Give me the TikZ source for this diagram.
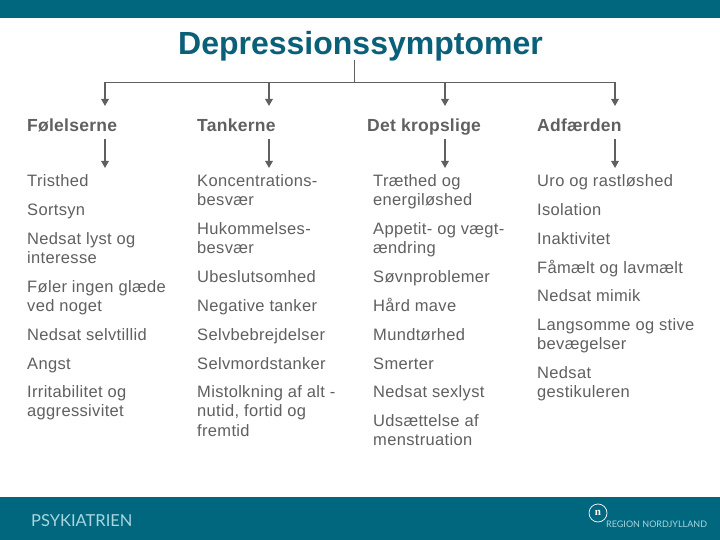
\documentclass[tikz,border=0pt]{standalone}
\usepackage{fontspec}
\setmainfont{Liberation Sans}
\newfontfamily\logofont{Lato}
\newfontfamily\logoserif{Liberation Serif}
\usetikzlibrary{arrows.meta}
\definecolor{teal}{HTML}{00677F}
\definecolor{titlec}{HTML}{0A6078}
\definecolor{txt}{HTML}{606060}
\definecolor{lt}{HTML}{A9D6E0}
\tikzset{
 bar/.style={fill=teal,draw=none},
 itemtxt/.style={font=\fontsize{16.5}{19.4}\selectfont\addfontfeature{LetterSpace=2},text=txt,align=left,inner sep=0pt,anchor=north west,execute at begin node=\rule{0pt}{14pt}},
 headtxt/.style={itemtxt,font=\fontsize{17.5}{19.4}\selectfont\bfseries\addfontfeature{LetterSpace=1.5}},
 conn/.style={draw=txt,line width=1.4pt},
 arr/.style={conn,-{Triangle[length=7pt,width=7.5pt]}},
}
\begin{document}
\begin{tikzpicture}[x=1pt,y=-1pt]
\useasboundingbox (0,0) rectangle (720,540);
\fill[white] (0,0) rectangle (720,540);
\path[bar] (0,0) rectangle (720,18.5);
\path[bar] (0,497) rectangle (720,540);
\node[inner sep=0pt,anchor=base,text=titlec,font=\fontsize{32}{36}\selectfont\bfseries] (title) at (360.5,54.5) {Depressionssymptomer};
% headers
\node[headtxt] (h1) at (27,117) {Følelserne};
\node[headtxt] (h2) at (197,117) {Tankerne};
\node[headtxt] (h3) at (367,117) {Det kropslige};
\node[headtxt] (h4) at (537,117) {Adfærden};
% connectors
\coordinate (t0) at (354.5,60);
\coordinate (tj) at (354.5,82.5);
\coordinate (l) at (105,82.5);
\coordinate (r) at (615,82.5);
\coordinate (j2) at (269,82.5);
\coordinate (j3) at (445,82.5);
\coordinate (e1) at (105,106);
\coordinate (e2) at (269,106);
\coordinate (e3) at (445,106);
\coordinate (e4) at (615,106);
\coordinate (s1) at (105,139);
\coordinate (s2) at (269,139);
\coordinate (s3) at (445,139);
\coordinate (s4) at (615,139);
\coordinate (d1) at (105,168);
\coordinate (d2) at (269,168);
\coordinate (d3) at (445,168);
\coordinate (d4) at (615,168);
\draw[draw=txt,line width=.8pt] (t0) -- (tj);
\draw[draw=txt,line width=1pt] (l) -- (r);
\foreach \a/\b in {l/e1,j2/e2,j3/e3,r/e4,s1/d1,s2/d2,s3/d3,s4/d4} \draw[arr] (\a) -- (\b);
% column 1
\node[itemtxt] (a1) at (27,172) {Tristhed};
\node[itemtxt] (a2) at (27,201) {Sortsyn};
\node[itemtxt] (a3) at (27,232.4) {Nedsat lyst og\\interesse};
\node[itemtxt] (a4) at (27,280.4) {Føler ingen glæde\\ved noget};
\node[itemtxt] (a5) at (27,326) {Nedsat selvtillid};
\node[itemtxt] (a6) at (27,355) {Angst};
\node[itemtxt] (a7) at (27,385.4) {Irritabilitet og\\aggressivitet};
% column 2
\node[itemtxt] (b1) at (197,174.4) {Koncentrations-\\besvær};
\node[itemtxt] (b2) at (197,222.4) {Hukommelses-\\besvær};
\node[itemtxt] (b3) at (197,268) {Ubeslutsomhed};
\node[itemtxt] (b4) at (197,297) {Negative tanker};
\node[itemtxt] (b5) at (197,326) {Selvbebrejdelser};
\node[itemtxt] (b6) at (197,355) {Selvmordstanker};
\node[itemtxt] (b7) at (197,385.4) {Mistolkning af alt -\\nutid, fortid og\\fremtid};
% column 3
\node[itemtxt] (c1) at (373,174.4) {Træthed og\\energiløshed};
\node[itemtxt] (c2) at (373,222.4) {Appetit- og vægt-\\ændring};
\node[itemtxt] (c3) at (373,268) {Søvnproblemer};
\node[itemtxt] (c4) at (373,297) {Hård mave};
\node[itemtxt] (c5) at (373,326) {Mundtørhed};
\node[itemtxt] (c6) at (373,355) {Smerter};
\node[itemtxt] (c7) at (373,383) {Nedsat sexlyst};
\node[itemtxt] (c8) at (373,414.4) {Udsættelse af\\menstruation};
% column 4
\node[itemtxt] (d1n) at (537,172) {Uro og rastløshed};
\node[itemtxt] (d2n) at (537,201) {Isolation};
\node[itemtxt] (d3n) at (537,230) {Inaktivitet};
\node[itemtxt] (d4n) at (537,259) {Fåmælt og lavmælt};
\node[itemtxt] (d5n) at (537,287) {Nedsat mimik};
\node[itemtxt] (d6n) at (537,318.4) {Langsomme og stive\\bevægelser};
\node[itemtxt] (d7n) at (537,366.4) {Nedsat\\gestikuleren};
% logos
\node[inner sep=0pt,anchor=base west,text=lt,font=\logofont\fontsize{16.5}{16.5}\selectfont] (psy) at (31,526) {PSYKIATRIEN};
\node[inner sep=0pt,anchor=base west,text=lt,font=\logofont\fontsize{9}{10}\selectfont] (reg) at (606,527.5) {REGION NORDJYLLAND};
\node[circle,draw=white,line width=.7pt,minimum size=18pt,inner sep=0pt,text=white,font=\logoserif\fontsize{11}{11}\selectfont\bfseries] (logo) at (598,513) {n};
\end{tikzpicture}
\end{document}
